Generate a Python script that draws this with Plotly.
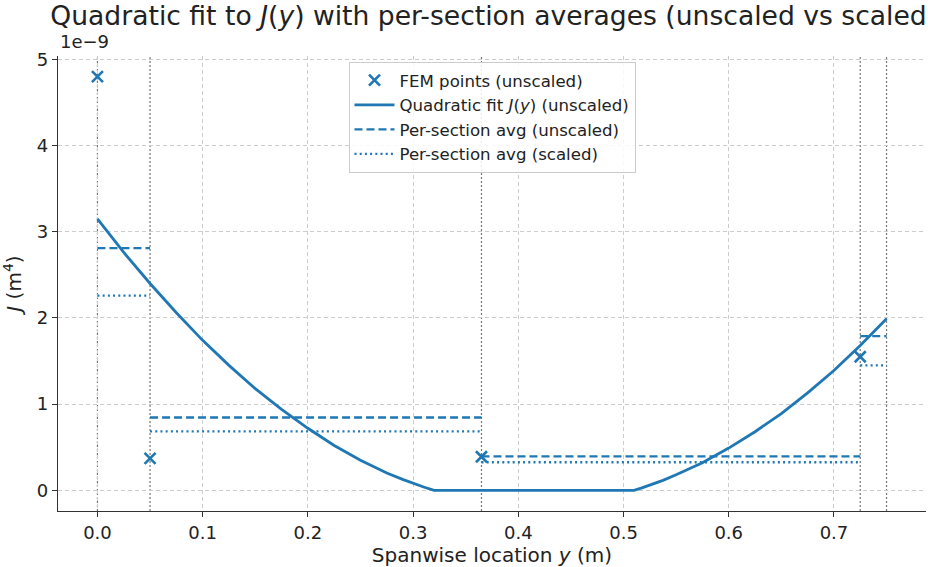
import plotly.graph_objects as go

# J values are expressed in units of 1e-9 m^4
fem_y = [0.0, 0.05, 0.365, 0.725]
fem_J = [4.80, 0.37, 0.39, 1.55]

# quadratic fit J(y), clipped at zero
fit_y = [0.0, 0.025, 0.05, 0.075, 0.1, 0.125, 0.15, 0.175, 0.2, 0.225, 0.25,
         0.275, 0.29, 0.3, 0.31, 0.32, 0.4, 0.51, 0.5175, 0.525, 0.5375, 0.55,
         0.575, 0.6, 0.625, 0.65, 0.675, 0.7, 0.725, 0.75]
fit_J = [3.15, 2.76, 2.40, 2.06, 1.74, 1.45, 1.18, 0.94, 0.72, 0.52, 0.35,
         0.20, 0.127, 0.08, 0.038, 0.0, 0.0, 0.0, 0.028, 0.06, 0.115, 0.18,
         0.32, 0.49, 0.68, 0.89, 1.13, 1.39, 1.68, 1.99]

# section boundaries and per-section averages
section_edges = [0.0, 0.05, 0.365, 0.725, 0.75]
avg_unscaled = [2.81, 0.845, 0.395, 1.79]
avg_scaled = [2.26, 0.684, 0.326, 1.45]

x_ticks = [0.0, 0.1, 0.2, 0.3, 0.4, 0.5, 0.6, 0.7]
y_ticks = [0, 1, 2, 3, 4, 5]

BLUE = "#1f77b4"
FONT = "DejaVu Sans, sans-serif"


def step_segments(edges, values):
    xs, ys = [], []
    for i, v in enumerate(values):
        xs += [edges[i], edges[i + 1], None]
        ys += [v, v, None]
    return xs, ys


fig = go.Figure()

fig.add_trace(go.Scatter(
    x=fem_y, y=fem_J, mode="markers", name="FEM points (unscaled)",
    marker=dict(symbol="x-thin-open", size=11, color=BLUE,
                line=dict(color=BLUE, width=2.6)),
))
fig.add_trace(go.Scatter(
    x=fit_y, y=fit_J, mode="lines", name="Quadratic fit <i>J</i>(<i>y</i>) (unscaled)",
    line=dict(color=BLUE, width=2.8),
))
ux, uy = step_segments(section_edges, avg_unscaled)
fig.add_trace(go.Scatter(
    x=ux, y=uy, mode="lines", name="Per-section avg (unscaled)",
    line=dict(color=BLUE, width=2.3, dash="8px,4px"),
))
sx, sy = step_segments(section_edges, avg_scaled)
fig.add_trace(go.Scatter(
    x=sx, y=sy, mode="lines", name="Per-section avg (scaled)",
    line=dict(color=BLUE, width=2.3, dash="2px,3.2px"),
))

# section boundary markers
for e in section_edges:
    fig.add_shape(type="line", xref="x", yref="paper", x0=e, x1=e, y0=0, y1=1,
                  line=dict(color="#777777", width=1.2, dash="2px,2px"), layer="below")

axis_common = dict(
    showline=True, linecolor="#333333", linewidth=1.3, mirror=False,
    ticks="outside", ticklen=5, tickwidth=1.2, tickcolor="#333333",
    showgrid=True, gridcolor="#cccccc", griddash="4px,3px", gridwidth=1,
    zeroline=False, tickfont=dict(size=18, color="#222222", family=FONT),
)

fig.update_layout(
    width=928, height=567,
    margin=dict(l=58, r=2, t=56, b=56),
    paper_bgcolor="white", plot_bgcolor="white",
    font=dict(family=FONT, color="#222222"),
    title=dict(
        text="Quadratic fit to <i>J</i>(<i>y</i>) with per-section averages (unscaled vs scaled)",
        x=0.532, xanchor="center", y=0.988, yanchor="top",
        font=dict(size=26.6, family=FONT, color="#222222"),
    ),
    xaxis=dict(
        range=[-0.0375, 0.7875], tickvals=x_ticks,
        ticktext=[f"{v:.1f}" for v in x_ticks],
        title=dict(text="Spanwise location <i>y</i> (m)", font=dict(size=20), standoff=6),
        **axis_common,
    ),
    yaxis=dict(
        range=[-0.24, 5.04], tickvals=y_ticks,
        ticktext=[str(v) for v in y_ticks],
        title=dict(text="<i>J</i> (m<sup>4</sup>)", font=dict(size=20), standoff=9),
        **axis_common,
    ),
    legend=dict(
        x=0.5, xanchor="center", y=0.987, yanchor="top",
        bgcolor="rgba(255,255,255,0.85)", bordercolor="#cccccc", borderwidth=1,
        font=dict(size=16.6, family=FONT, color="#222222"),
        tracegroupgap=0, itemwidth=40,
    ),
    showlegend=True,
)

fig.add_annotation(
    text="1e\u22129", xref="paper", yref="paper", x=0, y=1.005,
    xanchor="left", yanchor="bottom", showarrow=False,
    font=dict(size=18, family=FONT, color="#222222"),
)

fig.write_html("out.html")
